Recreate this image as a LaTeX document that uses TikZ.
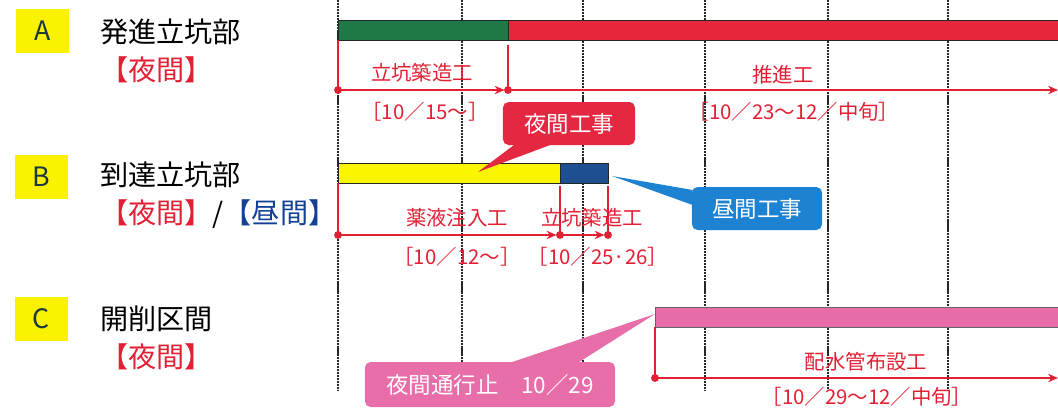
\documentclass[tikz,border=0pt]{standalone}
\usepackage{fontspec}
\setmainfont{Noto Sans CJK JP}
\usetikzlibrary{arrows.meta,calc}
\definecolor{linered}{RGB}{226,32,52}
\definecolor{bargreen}{RGB}{30,120,72}
\definecolor{barred}{RGB}{232,38,58}
\definecolor{baryellow}{RGB}{250,246,0}
\definecolor{barblue}{RGB}{30,80,145}
\definecolor{barpink}{RGB}{232,108,168}
\definecolor{boxyellow}{RGB}{250,242,0}
\definecolor{lettercol}{RGB}{25,55,65}
\definecolor{daytext}{RGB}{20,65,150}
\definecolor{calred}{RGB}{228,40,65}
\definecolor{calblue}{RGB}{30,130,210}
\definecolor{calpink}{RGB}{232,110,170}

\begin{document}
\begin{tikzpicture}[x=0.025cm, y=-0.025cm,
    grid/.style={line width=1pt, black!85, dash pattern=on 1.5pt off 0.6pt},
    bar/.style={draw=black!85, line width=0.6pt},
    tl/.style={linered, line width=1pt},
    tip/.style={-{Stealth[length=7pt,width=6pt]}},
    tltext/.style={text=linered, inner sep=0pt, font=\fontsize{14.5}{16}\selectfont},
    title/.style={anchor=west, inner sep=0pt, font=\fontsize{20}{24}\selectfont},
    letterbox/.style={fill=boxyellow, minimum width=1.325cm, minimum height=1.1cm, inner sep=0pt, text=lettercol, font=\fontsize{19}{22}\selectfont},
    callout/.style={rounded corners=4pt, inner sep=0pt, text=white, minimum height=1.075cm, font=\fontsize{16}{18}\selectfont}]
    \useasboundingbox (0,0) rectangle (1058,410);
    \foreach \x in {338,462,583,705,828,948}
    \draw [grid] (\x,0) -- (\x,390);

    \node [letterbox] (A) at (42.5,31) {A};
    \node [letterbox] (B) at (41.5,176.5) {B};
    \node [letterbox] (C) at (41.5,319) {C};
    \node [title] (Aname) at (100,32) {発進立坑部};
    \node [title, text=linered] (Atime) at (100,70) {【夜間】};
    \node [title] (Bname) at (100,175) {到達立坑部};
    \node [title] (Btime) at (100,214) {{\color{linered}【夜間】}/{\color{daytext}【昼間】}};
    \node [title] (Cname) at (100,319) {開削区間};
    \node [title, text=linered] (Ctime) at (100,357) {【夜間】};

    \draw [bar, fill=bargreen] (338,20) rectangle (508,40);
    \draw [bar, fill=barred] (508,20) rectangle (1064,40);
    \draw [bar, fill=baryellow] (338,163) rectangle (560,183);
    \draw [bar, fill=barblue] (560,163) rectangle (608,183);
    \draw [bar, draw=black!60, fill=barpink] (655,307) rectangle (1064,327);

    \coordinate (a0top) at (338,40);
    \coordinate (a1top) at (508,45);
    \coordinate (a0) at (338,90);
    \coordinate (a1) at (508,90);
    \coordinate (a2) at (1058,90);
    \coordinate (b0top) at (338,183);
    \coordinate (b1top) at (560,186);
    \coordinate (b2top) at (608,186);
    \coordinate (b0) at (338,235);
    \coordinate (b1) at (560,235);
    \coordinate (b2) at (608,235);
    \coordinate (c0top) at (655,327);
    \coordinate (c0) at (655,378);
    \coordinate (c1) at (1058,378);

    \draw [tl] (a0top) -- (a0);
    \draw [tl] (a1top) -- (a1);
    \draw [tl, tip, shorten >=2.5pt] (a0) -- (a1);
    \draw [tl, tip] (a1) -- (a2);
    \draw [tl] (b0top) -- (b0);
    \draw [tl] (b1top) -- (b1);
    \draw [tl] (b2top) -- (b2);
    \draw [tl, tip, shorten >=2.5pt] (b0) -- (b1);
    \draw [tl, tip, shorten >=2.5pt] (b1) -- (b2);
    \draw [tl] (c0top) -- (c0);
    \draw [tl, tip] (c0) -- (c1);
    \foreach \p in {a0,a1,b0,b1,b2,c0}
    \fill [linered] (\p) circle (2.8pt);

    \node [tltext] (a0work) at (422,73) {立坑築造工};
    \node [tltext] (a0date) at (425,112) {［10／15～］};
    \node [tltext] (a1work) at (783,75) {推進工};
    \node [tltext] (a1date) at (794,112) {［10／23～12／中旬］};
    \node [tltext] (b0work) at (457,218) {薬液注入工};
    \node [tltext] (b0date) at (457,257) {［10／12～］};
    \node [tltext] (b1work) at (592,218) {立坑築造工};
    \node [tltext] (b1date) at (598,257) {［10／25·26］};
    \node [tltext] (c0work) at (866,362) {配水管布設工};
    \node [tltext] (c0date) at (867,397) {［10／29～12／中旬］};

    \coordinate (nightAtip) at (478,172);
    \coordinate (dayBtip) at (612,176);
    \coordinate (nightCtip) at (655,314);
    \node [callout, fill=calred, minimum width=3.3cm] (nightA) at (569,123.5) {夜間工事};
    \fill [calred] ($(nightA.south)+(-54,-1)$) -- (nightAtip) -- ($(nightA.south)+(-17,-1)$) -- cycle;
    \node [callout, fill=calblue, minimum width=3.25cm] (dayB) at (757,208.5) {昼間工事};
    \fill [calblue] ($(dayB.west)+(1,-18.5)$) -- (dayBtip) -- ($(dayB.west)+(1,-3.5)$) -- cycle;
    \node [callout, fill=calpink, minimum width=6.25cm, minimum height=1.125cm] (nightC) at (490,384.5) {夜間通行止\quad 10／29};
    \fill [calpink] ($(nightC.north)+(20,1)$) -- (nightCtip) -- ($(nightC.north)+(88,1)$) -- cycle;
\end{tikzpicture}
\end{document}
